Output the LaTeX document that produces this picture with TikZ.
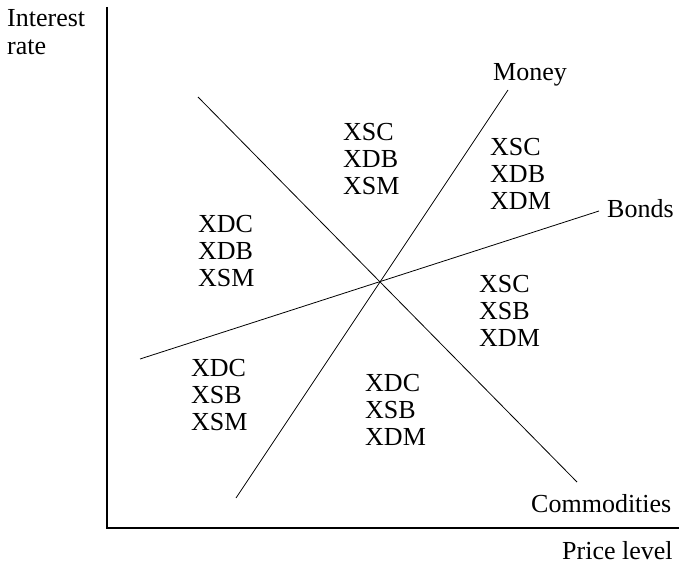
\documentclass[tikz,border=0pt]{standalone}
\usepackage{fontspec}
\setmainfont{Liberation Serif}
\begin{document}
\begin{tikzpicture}[x=1pt,y=-1pt,font=\fontsize{26}{27}\selectfont,
	blk/.style={anchor=north west,align=left,inner sep=0pt},
	lbl/.style={anchor=base west,inner sep=0pt}]
		\useasboundingbox (0,0) rectangle (679,564);
		% axes
		\coordinate (top) at (107,7);
		\coordinate (o) at (107,528);
		\coordinate (right) at (679,528);
		\draw[line width=1.2pt] (top) -- (o) -- (right);
		\node[blk,font=\fontsize{26}{28}\selectfont] (ir) at (7,9) {Interest\\rate};
		\node[lbl] (pl) at (562,559) {Price level};
		% the three lines
		\coordinate (c1) at (198,97);
		\coordinate (c2) at (577,482);
		\coordinate (m1) at (236,498);
		\coordinate (m2) at (508,90);
		\coordinate (b1) at (140,359);
		\coordinate (b2) at (599,211);
		\draw[line width=0.8pt] (c1) -- (c2);
		\draw[line width=0.8pt] (m1) -- (m2);
		\draw[line width=0.8pt] (b1) -- (b2);
		\node[lbl] (mo) at (493,81) {Money};
		\node[lbl] (bo) at (607,217) {Bonds};
		\node[lbl] (co) at (531,512) {Commodities};
		% regions
		\node[blk] (r1) at (343,123) {XSC\\XDB\\XSM};
		\node[blk] (r2) at (490,138) {XSC\\XDB\\XDM};
		\node[blk] (r3) at (198,215) {XDC\\XDB\\XSM};
		\node[blk] (r4) at (479,275) {XSC\\XSB\\XDM};
		\node[blk] (r5) at (191,359) {XDC\\XSB\\XSM};
		\node[blk] (r6) at (365,374) {XDC\\XSB\\XDM};
	\end{tikzpicture}
\end{document}
